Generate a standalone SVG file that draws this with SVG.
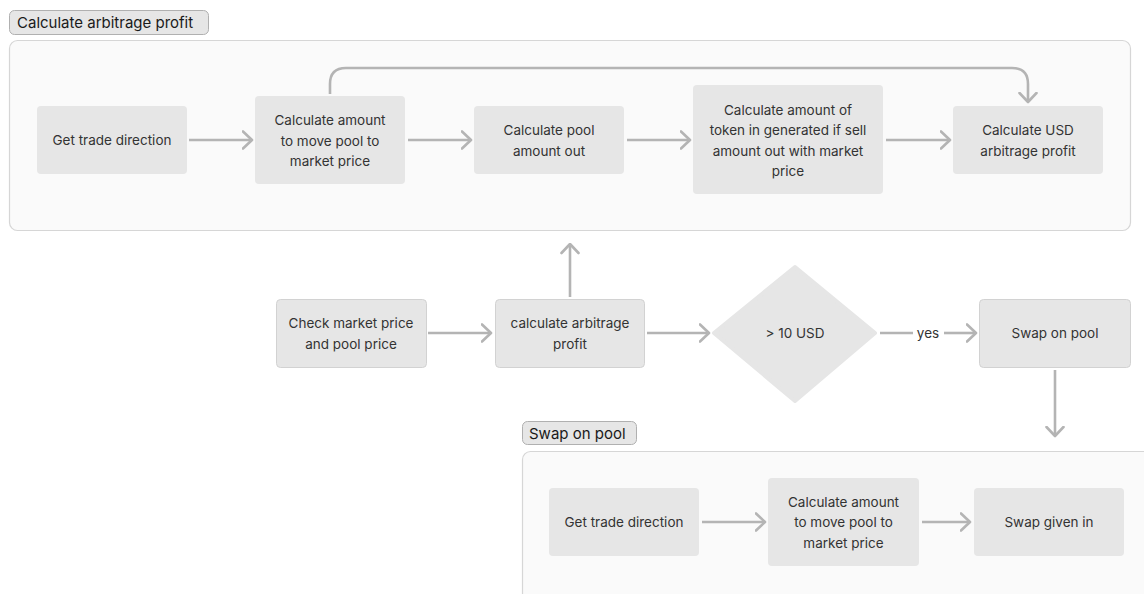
<svg xmlns="http://www.w3.org/2000/svg" width="1144" height="594" viewBox="0 0 1144 594">
  <style>
    .bg { fill: #ffffff; }
    .frame { fill: #fafafa; stroke: #d6d6d6; stroke-width: 1.2; }
    .tag { fill: #e6e6e6; stroke: #b0b0b0; stroke-width: 1; }
    .tagtext { font-family: Inter, "Liberation Sans", sans-serif; font-size: 15px; fill: #1a1a1a; }
    .box { fill: #e6e6e6; }
    .boxb { fill: #e6e6e6; stroke: #d2d2d2; stroke-width: 1; }
    .txt { font-family: Inter, "Liberation Sans", sans-serif; font-size: 13.5px; fill: #333333; text-anchor: middle; }
    .edge { fill: none; stroke: #b4b4b4; stroke-width: 2.6; }
  </style>
  <defs>
    <marker id="chev" viewBox="0 0 12 20" refX="10.5" refY="10" markerWidth="12" markerHeight="20" markerUnits="userSpaceOnUse" orient="auto">
      <path d="M1.5,1.5 L10.5,10 L1.5,18.5" fill="none" stroke="#b4b4b4" stroke-width="2.6" stroke-linecap="round" stroke-linejoin="round"/>
    </marker>
  </defs>

  <rect class="bg" x="0" y="0" width="1144" height="594"/>

  <!-- Upper group: profit calculation -->
  <g id="group-profit">
    <rect class="frame" x="9.5" y="40.5" width="1121" height="190" rx="8"/>
    <rect class="tag" x="9.5" y="10.5" width="199" height="24" rx="5"/>
    <text class="tagtext" x="17" y="28">Calculate arbitrage profit</text>
  </g>

  <!-- Lower group: swap -->
  <g id="group-swap">
    <rect class="frame" x="522.5" y="451.5" width="640" height="160" rx="8"/>
    <rect class="tag" x="522.5" y="421.5" width="114" height="23" rx="5"/>
    <text class="tagtext" x="529" y="439">Swap on pool</text>
  </g>

  <!-- Connectors -->
  <g id="connectors">
    <line class="edge" x1="189" y1="140" x2="252" y2="140" marker-end="url(#chev)"/>
    <line class="edge" x1="408" y1="140" x2="471" y2="140" marker-end="url(#chev)"/>
    <line class="edge" x1="627" y1="140" x2="690" y2="140" marker-end="url(#chev)"/>
    <line class="edge" x1="886" y1="140" x2="950" y2="140" marker-end="url(#chev)"/>
    <path class="edge" d="M330,94 V84 Q330,68 346,68 H1012 Q1028,68 1028,84 V102" marker-end="url(#chev)"/>

    <line class="edge" x1="428" y1="333" x2="491" y2="333" marker-end="url(#chev)"/>
    <line class="edge" x1="570" y1="297" x2="570" y2="244" marker-end="url(#chev)"/>
    <line class="edge" x1="647" y1="333" x2="709" y2="333" marker-end="url(#chev)"/>
    <line class="edge" x1="880" y1="333" x2="913" y2="333"/>
    <text class="txt" x="928" y="338">yes</text>
    <line class="edge" x1="944" y1="333" x2="976" y2="333" marker-end="url(#chev)"/>
    <line class="edge" x1="1055" y1="370" x2="1055" y2="436" marker-end="url(#chev)"/>

    <line class="edge" x1="702" y1="522" x2="765" y2="522" marker-end="url(#chev)"/>
    <line class="edge" x1="922" y1="522" x2="970" y2="522" marker-end="url(#chev)"/>
  </g>

  <!-- Upper group nodes -->
  <g id="node-trade-direction">
    <rect class="box" x="37" y="106" width="150" height="68" rx="4"/>
    <text class="txt" x="112" y="145">Get trade direction</text>
  </g>
  <g id="node-amount-to-move">
    <rect class="box" x="255" y="96" width="150" height="88" rx="4"/>
    <text class="txt" x="330" y="125">Calculate amount</text>
    <text class="txt" x="330" y="145.5">to move pool to</text>
    <text class="txt" x="330" y="166">market price</text>
  </g>
  <g id="node-pool-out">
    <rect class="box" x="474" y="106" width="150" height="68" rx="4"/>
    <text class="txt" x="549" y="135">Calculate pool</text>
    <text class="txt" x="549" y="155.5">amount out</text>
  </g>
  <g id="node-token-in">
    <rect class="box" x="693" y="85" width="190" height="109" rx="4"/>
    <text class="txt" x="788" y="114.5">Calculate amount of</text>
    <text class="txt" x="788" y="135">token in generated if sell</text>
    <text class="txt" x="788" y="155.5">amount out with market</text>
    <text class="txt" x="788" y="176">price</text>
  </g>
  <g id="node-usd-profit">
    <rect class="box" x="953" y="106" width="150" height="68" rx="4"/>
    <text class="txt" x="1028" y="135">Calculate USD</text>
    <text class="txt" x="1028" y="155.5">arbitrage profit</text>
  </g>

  <!-- Main flow nodes -->
  <g id="node-check-price">
    <rect class="boxb" x="276.5" y="299.5" width="150" height="68" rx="4"/>
    <text class="txt" x="351" y="328">Check market price</text>
    <text class="txt" x="351" y="348.5">and pool price</text>
  </g>
  <g id="node-calc-profit">
    <rect class="boxb" x="495.5" y="299.5" width="149" height="68" rx="4"/>
    <text class="txt" x="570" y="328">calculate arbitrage</text>
    <text class="txt" x="570" y="348.5">profit</text>
  </g>
  <g id="node-threshold">
    <polygon points="795,267 875,333 795,401 714,333" fill="#e6e6e6" stroke="#e6e6e6" stroke-width="4" stroke-linejoin="round"/>
    <text class="txt" x="795" y="338">&gt; 10 USD</text>
  </g>
  <g id="node-swap">
    <rect class="boxb" x="979.5" y="299.5" width="151" height="68" rx="4"/>
    <text class="txt" x="1055" y="338">Swap on pool</text>
  </g>

  <!-- Lower group nodes -->
  <g id="node-swap-direction">
    <rect class="box" x="549" y="488" width="150" height="68" rx="4"/>
    <text class="txt" x="624" y="527">Get trade direction</text>
  </g>
  <g id="node-swap-amount">
    <rect class="box" x="768" y="478" width="151" height="88" rx="4"/>
    <text class="txt" x="843.5" y="506.5">Calculate amount</text>
    <text class="txt" x="843.5" y="527">to move pool to</text>
    <text class="txt" x="843.5" y="547.5">market price</text>
  </g>
  <g id="node-swap-given">
    <rect class="box" x="974" y="488" width="150" height="68" rx="4"/>
    <text class="txt" x="1049" y="527">Swap given in</text>
  </g>
</svg>
